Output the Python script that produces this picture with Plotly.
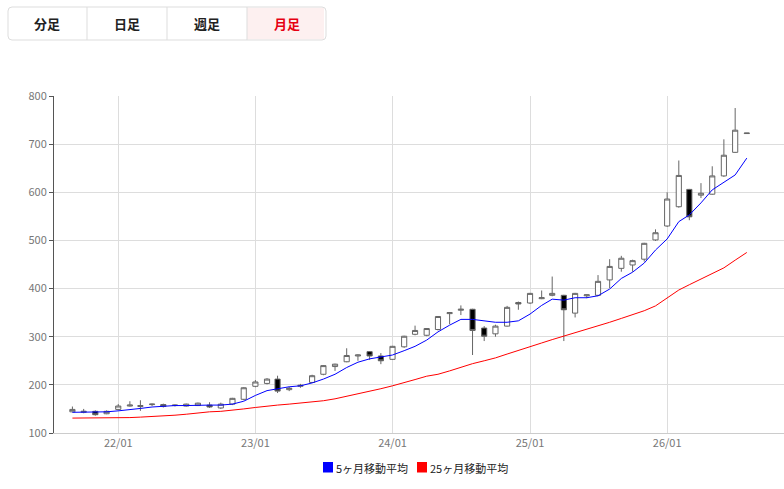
import pandas as pd
import plotly.graph_objects as go

# monthly candles, 2021/09 .. 2026/08
months = pd.date_range("2021-09-01", periods=60, freq="MS")

opens = [144, 143, 145, 140, 149, 156, 155, 159, 159, 157, 156, 157, 158, 152, 160, 170,
         197, 203, 212, 190, 197, 205, 222, 238, 248, 260, 269, 260, 253, 279, 305, 303,
         315, 348, 355, 357, 318, 306, 322, 371, 370, 379, 386, 386, 349, 385, 386, 418,
         442, 449, 461, 501, 530, 570, 606, 594, 596, 634, 683, 722]
highs = [155, 150, 147, 147, 160, 166, 168, 161, 161, 159, 161, 163, 164, 163, 173, 195,
         210, 214, 219, 196, 202, 221, 241, 244, 276, 263, 270, 266, 281, 302, 323, 318,
         343, 351, 365, 358, 322, 325, 364, 373, 391, 396, 425, 387, 391, 388, 428, 461,
         468, 460, 495, 523, 600, 666, 607, 619, 654, 710, 775, 723]
lows = [143, 141, 136, 139, 147, 155, 146, 156, 153, 155, 155, 156, 152, 150, 158, 168,
        195, 201, 183, 187, 194, 204, 220, 229, 247, 250, 252, 243, 252, 277, 303, 301,
        313, 326, 345, 262, 291, 300, 321, 356, 368, 378, 384, 291, 340, 380, 384, 401,
        435, 435, 456, 499, 528, 568, 542, 588, 595, 632, 682, 722]
closes = [149, 145, 138, 145, 156, 158, 157, 160, 155, 158, 160, 162, 154, 160, 172, 194,
          206, 212, 187, 193, 199, 219, 240, 243, 261, 262, 260, 250, 280, 301, 313, 317,
          342, 350, 357, 313, 301, 322, 361, 368, 390, 381, 390, 356, 390, 387, 415, 446,
          463, 458, 494, 516, 586, 635, 549, 598, 634, 677, 729, 723]

ma5 = [143, 143, 143, 144, 146, 148, 151, 154, 156, 157, 157, 158, 158, 158, 160, 166,
       178, 188, 192, 196, 198, 204, 212, 222, 236, 247, 254, 258, 262, 271, 280, 293,
       310, 324, 336, 336, 333, 330, 330, 333, 347, 365, 378, 376, 381, 381, 385, 399,
       421, 434, 453, 480, 503, 539, 553, 578, 605, 620, 636, 671]
ma25 = [131, 131, 131, 131, 131, 132, 133, 134, 135, 137, 139, 142, 144, 145, 147, 150,
        153, 156, 158, 160, 162, 164, 167, 171, 176, 181, 187, 192, 198, 204, 211, 218,
        222, 229, 237, 244, 250, 256, 264, 272, 280, 287, 294, 301, 308, 315, 323, 330,
        338, 346, 354, 364, 380, 397, 408, 420, 430, 443, 459, 475]

buttons = ["分足", "日足", "週足", "月足"]
legend_names = ["5ヶ月移動平均", "25ヶ月移動平均"]
legend_colors = ["#0000ff", "#ff0000"]

FONT = "Noto Sans CJK JP"

FW, FH = 784, 489
L, T, W, H = 54, 96, 784 - 54, 337


def px(x):
    # page x -> paper x
    return (x - L) / W


def py(y):
    # page y -> paper y
    return (T + H - y) / H


fig = go.Figure()

fig.add_trace(go.Candlestick(
    x=months, open=opens, high=highs, low=lows, close=closes,
    increasing=dict(line=dict(color="#666666", width=1), fillcolor="#ffffff"),
    decreasing=dict(line=dict(color="#666666", width=1), fillcolor="#000000"),
    whiskerwidth=0, showlegend=False, hoverinfo="skip",
))
fig.add_trace(go.Scatter(x=months, y=ma5, mode="lines",
                         line=dict(color="#0000ff", width=1), showlegend=False))
fig.add_trace(go.Scatter(x=months, y=ma25, mode="lines",
                         line=dict(color="#ff0000", width=1), showlegend=False))

# button group above the plot
x0, x1, y0, y1 = 8, 326, 7, 40
rx, ry = 4 / W, 4 / H
path = (f"M {px(x0)+rx},{py(y0)} L {px(x1)-rx},{py(y0)} Q {px(x1)},{py(y0)} {px(x1)},{py(y0)-ry} "
        f"L {px(x1)},{py(y1)+ry} Q {px(x1)},{py(y1)} {px(x1)-rx},{py(y1)} "
        f"L {px(x0)+rx},{py(y1)} Q {px(x0)},{py(y1)} {px(x0)},{py(y1)+ry} "
        f"L {px(x0)},{py(y0)-ry} Q {px(x0)},{py(y0)} {px(x0)+rx},{py(y0)} Z")
shapes = [
    dict(type="rect", xref="paper", yref="paper", x0=px(247), x1=px(x1) - rx / 2,
         y0=py(y1) + 0.002, y1=py(y0) - 0.002, fillcolor="#fdf0f0", line=dict(width=0), layer="below"),
    dict(type="path", xref="paper", yref="paper", path=path,
         line=dict(color="#dddddd", width=1)),
]
for xd in (87, 167, 247):
    shapes.append(dict(type="line", xref="paper", yref="paper", x0=px(xd), x1=px(xd),
                       y0=py(y0), y1=py(y1), line=dict(color="#dddddd", width=1)))

annotations = []
for i, b in enumerate(buttons):
    annotations.append(dict(
        xref="paper", yref="paper", x=px(47 + 80 * i), y=py(23.5), text=f"<b>{b}</b>",
        showarrow=False, font=dict(family=FONT, size=13,
                                   color="#e60012" if i == 3 else "#222222"),
        xanchor="center", yanchor="middle"))

# legend below the plot: square swatch + label
for sx, name, col in zip((323, 417), legend_names, legend_colors):
    shapes.append(dict(type="rect", xref="paper", yref="paper", x0=px(sx), x1=px(sx + 10),
                       y0=py(472.5), y1=py(462), fillcolor=col, line=dict(width=0)))
    annotations.append(dict(
        xref="paper", yref="paper", x=px(sx + 11), y=py(467.5), text=name, showarrow=False,
        xanchor="left", yanchor="middle", font=dict(family=FONT, size=11, color="#222222")))

fig.update_layout(
    width=FW, height=FH,
    margin=dict(l=L, r=0, t=T, b=FH - T - H),
    paper_bgcolor="white", plot_bgcolor="white",
    font=dict(family=FONT, size=11, color="#666666"),
    shapes=shapes, annotations=annotations,
    showlegend=False,
    xaxis=dict(
        type="date", range=["2021-07-14", "2026-11-08"],
        rangeslider=dict(visible=False),
        tickformat="%y/%m", dtick="M12", tick0="2022-01-01",
        showgrid=True, gridcolor="#dddddd", gridwidth=1,
        showline=True, linecolor="#cccccc", ticks="", zeroline=False,
        tickfont=dict(color="#777777", size=11),
    ),
    yaxis=dict(
        range=[100, 800], dtick=100,
        showgrid=True, gridcolor="#dddddd", gridwidth=1,
        showline=True, linecolor="#555555", ticks="outside", ticklen=4, tickcolor="#555555",
        zeroline=False, tickfont=dict(color="#777777", size=11),
    ),
    hovermode=False,
)

# drop the default 8px body margin so the figure sits at the window origin
fig.write_html("out.html", config={"displayModeBar": False},
               post_script="document.body.style.margin='0';document.body.style.overflow='hidden';")
